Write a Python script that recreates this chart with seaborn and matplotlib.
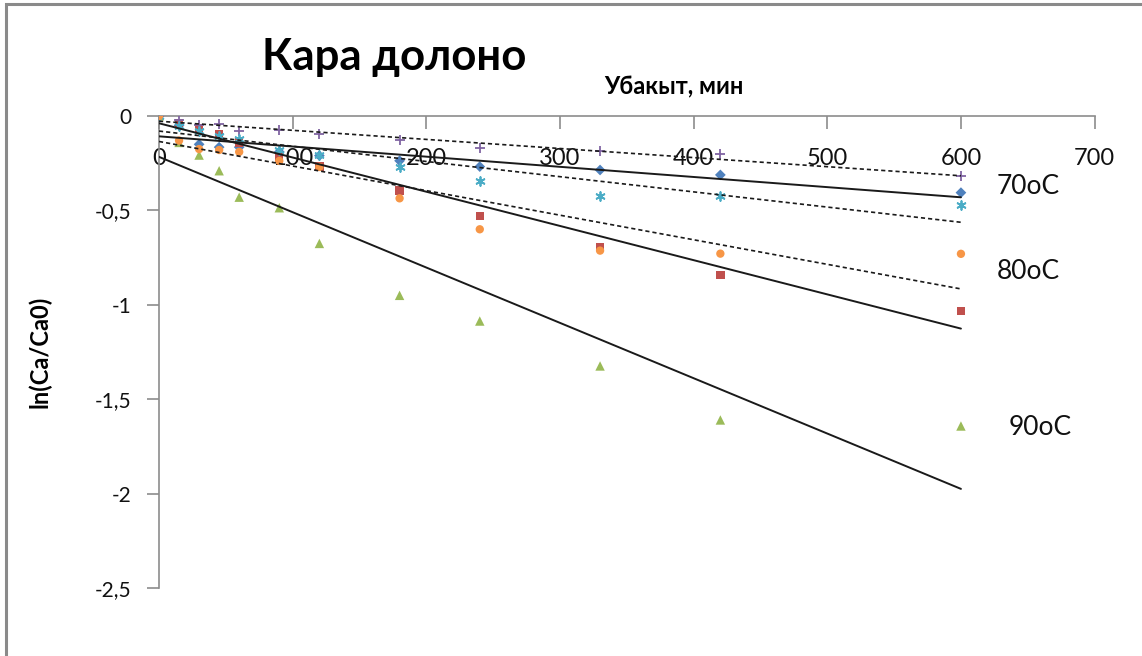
import matplotlib
matplotlib.use("Agg")
import matplotlib.pyplot as plt
from matplotlib.patches import Rectangle
from matplotlib.ticker import FuncFormatter
import pandas as pd
import seaborn as sns

# Time of leaching, minutes
time_min = [0, 15, 30, 45, 60, 90, 120, 180, 240, 330, 420, 600]

# ln(Ca/Ca0) for each run
run_blue = [0, -0.05, -0.15, -0.165, -0.165, -0.19, -0.21, -0.237, -0.268, -0.286, -0.312, -0.406]
run_red = [0, -0.04, -0.065, -0.097, -0.14, -0.22, -0.268, -0.394, -0.53, -0.694, -0.842, -1.033]
run_green = [0, -0.14, -0.207, -0.29, -0.43, -0.486, -0.675, -0.95, -1.086, -1.324, -1.61, -1.642]
run_purple = [0, -0.02, -0.046, -0.04, -0.08, -0.075, -0.095, -0.127, -0.17, -0.185, -0.20, -0.32]
run_aqua = [0, -0.055, -0.078, -0.107, -0.12, -0.18, -0.205, -0.27, -0.344, -0.422, -0.422, -0.47]
run_orange = [0, -0.13, -0.175, -0.18, -0.19, -0.238, -0.27, -0.436, -0.60, -0.713, -0.729, -0.73]

temp_labels = ["70oC", "80oC", "90oC"]
temp_label_pos = [(627, -0.376), (627, -0.826), (636, -1.652)]

x_ticks = [0, 100, 200, 300, 400, 500, 600, 700]
y_ticks = [0, -0.5, -1, -1.5, -2, -2.5]

# name, values, colour, marker, trendline style
series = [
    ("blue", run_blue, "#4F81BD", "D", "-"),
    ("red", run_red, "#C0504D", "s", "-"),
    ("green", run_green, "#9BBB59", "^", "-"),
    ("purple", run_purple, "#8064A2", "+", "--"),
    ("aqua", run_aqua, "#4BACC6", (6, 2, 0), "--"),
    ("orange", run_orange, "#F79646", "o", "--"),
]
marker_sizes = {"blue": 30, "red": 36, "green": 46, "purple": 50, "aqua": 40, "orange": 36}
line_markers = {"purple", "aqua"}

sns.set_style("white")
plt.rcParams["font.family"] = ["Lato", "DejaVu Sans"]

W, H = 1142, 656
fig = plt.figure(figsize=(W / 100, H / 100), dpi=100)
ax = fig.add_axes([159 / W, 68 / H, (1094.6 - 159) / W, (588 - 116) / H])

for name, vals, color, marker, ls in series:
    df = pd.DataFrame({"t": time_min, "v": vals})
    is_line = name in line_markers
    sns.scatterplot(data=df, x="t", y="v", ax=ax, color=color, marker=marker,
                    s=marker_sizes[name], linewidth=1.3 if is_line else 0,
                    edgecolor=color if is_line else "none", zorder=3)

# linear trendlines over the measured range
for name, vals, color, marker, ls in series:
    df = pd.DataFrame({"t": time_min, "v": vals})
    kws = dict(color="#1a1a1a", lw=1.4 if ls == "-" else 1.2, zorder=4)
    if ls == "--":
        kws["dashes"] = (2.5, 1.8)
    sns.regplot(data=df, x="t", y="v", ax=ax, scatter=False, ci=None,
                truncate=True, line_kws=kws)

ax.set_xlim(0, 700)
ax.set_ylim(-2.5, 0)
ax.set_xticks(x_ticks)
ax.set_yticks(y_ticks)
ax.set_xlabel("")
ax.set_ylabel("")

for side in ["right", "bottom"]:
    ax.spines[side].set_visible(False)
for side in ["top", "left"]:
    ax.spines[side].set_color("#8c8c8c")
    ax.spines[side].set_linewidth(1.2)

ax.xaxis.set_ticks_position("top")
ax.tick_params(axis="x", which="major", direction="in", length=9, width=1.2,
               color="#8c8c8c", labelsize=17, labelcolor="#111111",
               top=True, bottom=False, labeltop=True, labelbottom=False, pad=-38)
ax.tick_params(axis="y", which="major", direction="out", length=9, width=1.2,
               color="#8c8c8c", labelsize=15, labelcolor="#111111",
               left=True, right=False, pad=11)
ax.yaxis.set_major_formatter(FuncFormatter(lambda v, p: ("%g" % v).replace(".", ",")))
for lbl in ax.get_xticklabels():
    lbl.set_zorder(5)

for txt, (tx, ty) in zip(temp_labels, temp_label_pos):
    ax.text(tx, ty, txt, fontsize=19, va="center", ha="left", color="#111111",
            clip_on=False)

fig.text(394 / W, 1 - 57 / H, "Кара долоно", fontsize=31.5, fontweight="bold",
         ha="center", va="center", color="#000000")
fig.text(674 / W, 1 - 87 / H, "Убакыт, мин", fontsize=17, fontweight="bold",
         ha="center", va="center", color="#000000")
fig.text(40 / W, 1 - 352 / H, "ln(Ca/Ca0)", fontsize=17, fontweight="bold",
         ha="center", va="center", rotation=90, color="#000000")

fig.add_artist(Rectangle((6 / W, -0.2), 1.5, 1.2 - 4 / H, transform=fig.transFigure,
                         fill=False, edgecolor="#8a8a8a", lw=2.2))

fig.savefig("out.png", dpi=100, facecolor="white")
